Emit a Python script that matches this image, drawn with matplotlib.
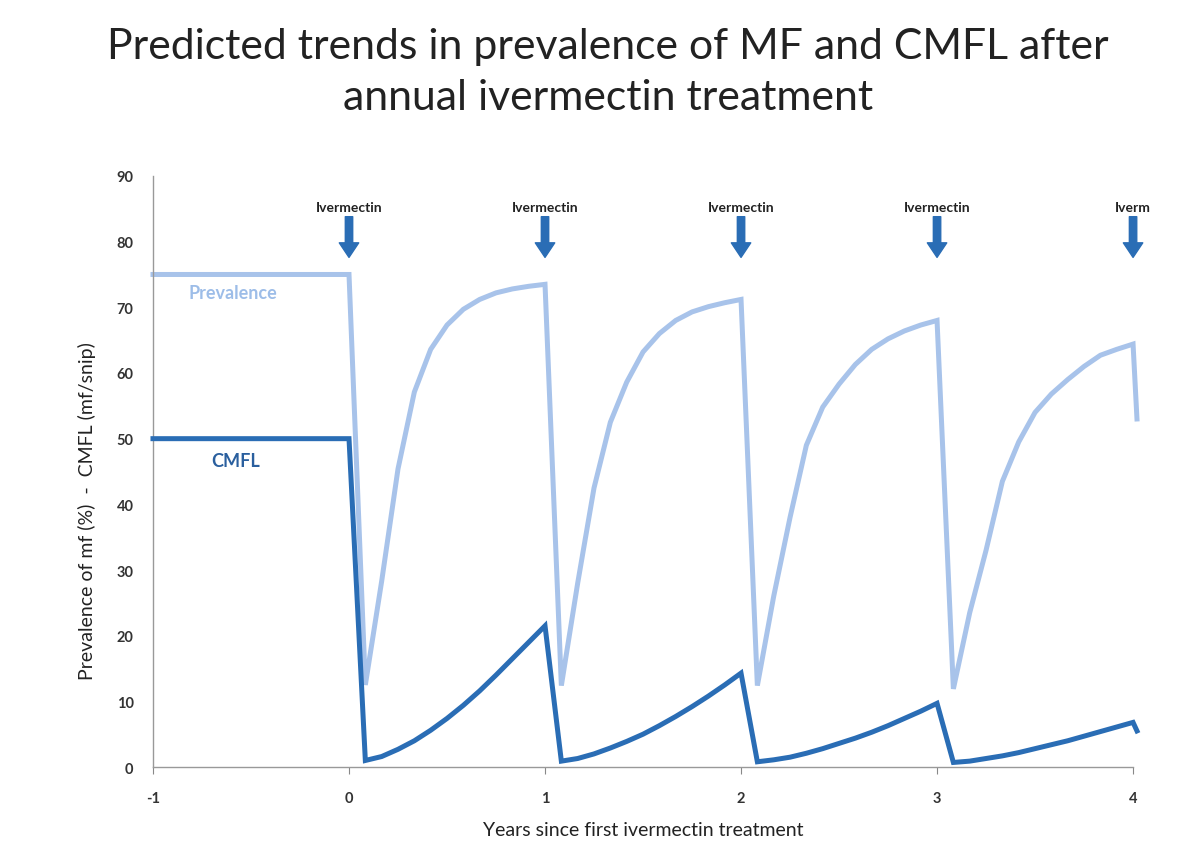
import matplotlib
matplotlib.use("Agg")
import matplotlib.pyplot as plt
import numpy as np

# ---- data ----
months = [-12, 0, 1, 2, 3, 4, 5, 6, 7, 8, 9, 10, 11, 12,
          13, 14, 15, 16, 17, 18, 19, 20, 21, 22, 23, 24,
          25, 26, 27, 28, 29, 30, 31, 32, 33, 34, 35, 36,
          37, 38, 39, 40, 41, 42, 43, 44, 45, 46, 47, 48]
prevalence = [75, 75, 12.5, 28.3, 45.4, 57.1, 63.6, 67.3, 69.7, 71.2, 72.2, 72.8, 73.2, 73.5,
              12.4, 28.0, 42.5, 52.5, 58.6, 63.2, 66.0, 68.0, 69.3, 70.1, 70.7, 71.2,
              12.4, 26.0, 38.0, 49.0, 54.8, 58.3, 61.3, 63.6, 65.2, 66.4, 67.3, 68.0,
              11.9, 23.5, 33.0, 43.5, 49.5, 54.0, 56.8, 59.0, 61.0, 62.7, 63.6, 64.4]
cmfl = [50, 50, 1.0, 1.6, 2.7, 4.0, 5.6, 7.4, 9.4, 11.6, 14.0, 16.5, 19.0, 21.5,
        0.9, 1.3, 2.0, 2.9, 3.9, 5.0, 6.3, 7.7, 9.2, 10.8, 12.5, 14.3,
        0.8, 1.1, 1.5, 2.1, 2.8, 3.6, 4.4, 5.3, 6.3, 7.4, 8.5, 9.7,
        0.7, 0.9, 1.3, 1.7, 2.2, 2.8, 3.4, 4.0, 4.7, 5.4, 6.1, 6.8]
# truncated drop visible at the right edge
end_x = 4.02
end_prev = 53
end_cmfl = 5.5

treat_years = [0, 1, 2, 3, 4]
treat_labels = ["Ivermectin", "Ivermectin", "Ivermectin", "Ivermectin", "Iverm"]
xticks = [-1, 0, 1, 2, 3, 4]
yticks = [0, 10, 20, 30, 40, 50, 60, 70, 80, 90]

years = [m / 12 for m in months] + [end_x]
prev_all = prevalence + [end_prev]
cmfl_all = cmfl + [end_cmfl]

# ---- figure ----
plt.rcParams['font.family'] = ['Lato', 'DejaVu Sans']
plt.rcParams['axes.unicode_minus'] = False
fig = plt.figure(figsize=(11.99, 8.62), dpi=100)
ax = fig.add_axes([0.1276, 0.109, 0.8174, 0.6857])

light = '#a8c3ea'
dark = '#2a6db5'

ax.plot(years, prev_all, color=light, lw=3.6, solid_joinstyle='miter', clip_on=False, zorder=2)
ax.plot(years, cmfl_all, color=dark, lw=3.6, solid_joinstyle='miter', clip_on=False, zorder=3)

ax.set_xlim(-1, 4)
ax.set_ylim(0, 90)
ax.set_xticks(xticks)
ax.set_yticks(yticks)
ax.tick_params(axis='y', length=0, pad=14, labelsize=10.5, labelcolor='#333333')
ax.tick_params(axis='x', length=5, direction='out', color='#888888', pad=12,
               labelsize=10.5, labelcolor='#333333')
for lab in ax.get_xticklabels() + ax.get_yticklabels():
    lab.set_fontweight('bold')

for s in ['top', 'right']:
    ax.spines[s].set_visible(False)
for s in ['left', 'bottom']:
    ax.spines[s].set_color('#999999')
    ax.spines[s].set_linewidth(1.0)

ax.set_xlabel("Years since first ivermectin treatment", fontsize=14, color='#222222', labelpad=12)
ax.set_ylabel("Prevalence of mf (%)  -  CMFL (mf/snip)", fontsize=14, color='#222222')
ax.yaxis.set_label_coords(-0.058, 0.435)

for x, lab in zip(treat_years, treat_labels):
    ax.text(x, 84.4, lab, ha='center', va='bottom', fontsize=10, fontweight='bold', color='#222222')
    ax.annotate('', xy=(x, 77.6), xytext=(x, 83.8),
                arrowprops=dict(arrowstyle='simple,head_width=1.0,head_length=0.75,tail_width=0.38',
                                color=dark, mutation_scale=14, shrinkA=0, shrinkB=0),
                annotation_clip=False)

ax.text(-0.59, 72.2, "Prevalence", ha='center', va='center', fontsize=13,
        fontweight='bold', color='#9dbde8')
ax.text(-0.58, 46.6, "CMFL", ha='center', va='center', fontsize=13,
        fontweight='bold', color='#2a5f9e')

fig.text(0.507, 0.946, "Predicted trends in prevalence of MF and CMFL after",
         ha='center', va='center', fontsize=30.8, color='#222222')
fig.text(0.507, 0.886, "annual ivermectin treatment",
         ha='center', va='center', fontsize=30.8, color='#222222')

fig.savefig("out.png", dpi=100, facecolor='white')
